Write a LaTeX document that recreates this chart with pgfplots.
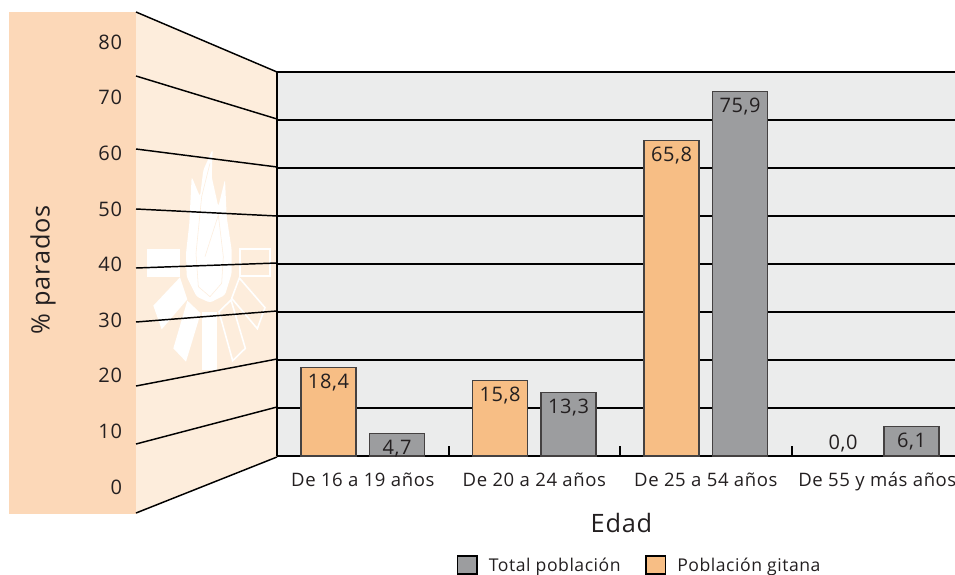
\documentclass[border=0pt]{standalone}
\usepackage{fontspec}
\setmainfont{Open Sans}[LetterSpace=3]
\usepackage{pgfplots}
\pgfplotsset{compat=1.18}
\definecolor{band}{HTML}{FCD8B8}
\definecolor{wall}{HTML}{FDEDDC}
\definecolor{plotbg}{HTML}{EBECEC}
\definecolor{orangebar}{HTML}{F7BE85}
\definecolor{graybar}{HTML}{9C9D9F}
\definecolor{ink}{HTML}{231F20}
\begin{document}
\begin{tikzpicture}
\begin{scope}[x=0.75pt,y=-0.75pt]
% left band and wall
\fill[band] (9,12) rectangle (136,514);
\fill[wall] (136,12) -- (277,72) -- (277,457) -- (136,514) -- cycle;
% emblem
\begin{scope}[shift={(130,140)},x=0.25pt,y=-0.25pt]
\fill[white,rounded corners=2pt] (240,488) -- (200,470) -- (170,410) -- (168,340) -- (178,250) -- (185,110) -- (210,170) -- (220,90) -- (248,28) -- (245,110) -- (265,200) -- (285,118) -- (290,230) -- (305,330) -- (305,400) -- (285,465) -- cycle;
\draw[wall,line width=0.4pt] (240,470) -- (205,440) -- (198,340) -- (215,170) -- (240,70);
\draw[wall,line width=0.4pt] (225,350) -- (265,225) -- (280,350) -- (275,430) -- (240,470);
\fill[white] (52,326) rectangle (150,410);
\draw[white,line width=1.5pt] (330,328) rectangle (421,408);
\fill[white] (150,412) -- (172,478) -- (95,568) -- (70,497) -- cycle;
\fill[white] (172,482) -- (212,520) -- (168,665) -- (130,625) -- cycle;
\fill[white] (215,515) rectangle (262,690);
\draw[white,line width=1.2pt] (267,515) -- (303,480) -- (346,625) -- (308,662) -- cycle;
\draw[white,line width=1.2pt] (328,414) -- (405,503) -- (382,566) -- (305,475) -- cycle;
\end{scope}
% perspective lines
\foreach \a/\b in {12/72,76/119,149/167,209/216,268/263,322/311,386/359,444/407,513/457}
  \draw[black,line width=1.1pt] (136,\a) -- (277,\b);
\node[rotate=90,text=ink,font=\fontsize{19}{22}\selectfont] at (43,270) {\% parados};
\end{scope}
% wall tick labels
\begin{axis}[
  at={(91.5pt,-365.25pt)},anchor=south west,
  scale only axis,width=1pt,height=333.75pt,
  xmin=0,xmax=1,ymin=0,ymax=80,
  hide x axis,
  axis y line=left,
  y axis line style={draw=none},
  ytick={0,10,...,80},
  major tick length=0pt,
  /pgf/number format/assume math mode=true,
  yticklabel style={text=ink,font=\fontsize{15}{18}\selectfont,xshift=3.5pt},
]
\end{axis}
% chart
\begin{axis}[
  at={(207.75pt,-342pt)},anchor=south west,
  scale only axis,width=508.5pt,height=288pt,
  xmin=0,xmax=3.953,ymin=0,ymax=80,
  axis background/.style={fill=plotbg},
  axis x line*=bottom,axis y line*=left,
  axis line style={black,line width=1.7pt,-},
  ytick={0,10,...,80},yticklabels={},
  ymajorgrids,
  grid style={black,line width=1.5pt},
  xtick={0.5,1.5,2.5,3.5},
  xticklabels={De 16 a 19 años,De 20 a 24 años,De 25 a 54 años,De 55 y más años},
  minor xtick={1,2,3},
  major tick length=0pt,
  minor tick length=7.5pt,
  minor tick style={black,line width=1.5pt,yshift=7.5pt},
  xticklabel style={text=ink,font=\fontsize{13.9}{17}\selectfont,yshift=-9pt},
  xlabel={Edad},
  xlabel style={at={(axis description cs:0.508,-0.175)},anchor=center,text=ink,font=\fontsize{19}{22}\selectfont},
  ybar,
  bar width=41.25pt,
  /pgf/number format/assume math mode=true,
  /pgf/number format/.cd,use comma,fixed,fixed zerofill,precision=1,
  /pgfplots/.cd,
  nodes near coords,
  nodes near coords style={anchor=north,text=ink,font=\fontsize{15}{18}\selectfont,yshift=-1.2pt},
  legend columns=2,
  legend style={draw=none,fill=none,at={(axis description cs:0.265,-0.285)},anchor=west,inner sep=0pt,text=ink,font=\fontsize{13.2}{16}\selectfont,
    nodes={inner sep=2pt},
    /tikz/every even column/.append style={column sep=16.5pt}},
]
\addplot[bar shift=25.7pt,draw=ink!85,line width=0.9pt,fill=graybar,
  legend image code/.code={\draw[black,line width=1.1pt,fill=graybar] (0pt,-6.5pt) rectangle (14.5pt,7pt);\path (21pt,0pt);}] coordinates {(0.5,4.7) (1.5,13.3) (2.5,75.9) (3.5,6.1)};
\addlegendentry{Total población}
\addplot[bar shift=-25.7pt,draw=ink!85,line width=0.9pt,fill=orangebar,
  legend image code/.code={\draw[black,line width=1.1pt,fill=orangebar] (0pt,-6.5pt) rectangle (14.5pt,7pt);\path (21pt,0pt);}] coordinates {(0.5,18.4) (1.5,15.8) (2.5,65.8)};
\addlegendentry{Población gitana}
\addplot[bar shift=-25.7pt,draw=none,fill=none,forget plot,nodes near coords style={anchor=south,yshift=0.5pt,text=ink,font=\fontsize{15}{18}\selectfont}] coordinates {(3.5,0)};
\end{axis}
\pgfresetboundingbox
\useasboundingbox (0pt,0pt) rectangle (716.25pt,-430.5pt);
\end{tikzpicture}
\end{document}
